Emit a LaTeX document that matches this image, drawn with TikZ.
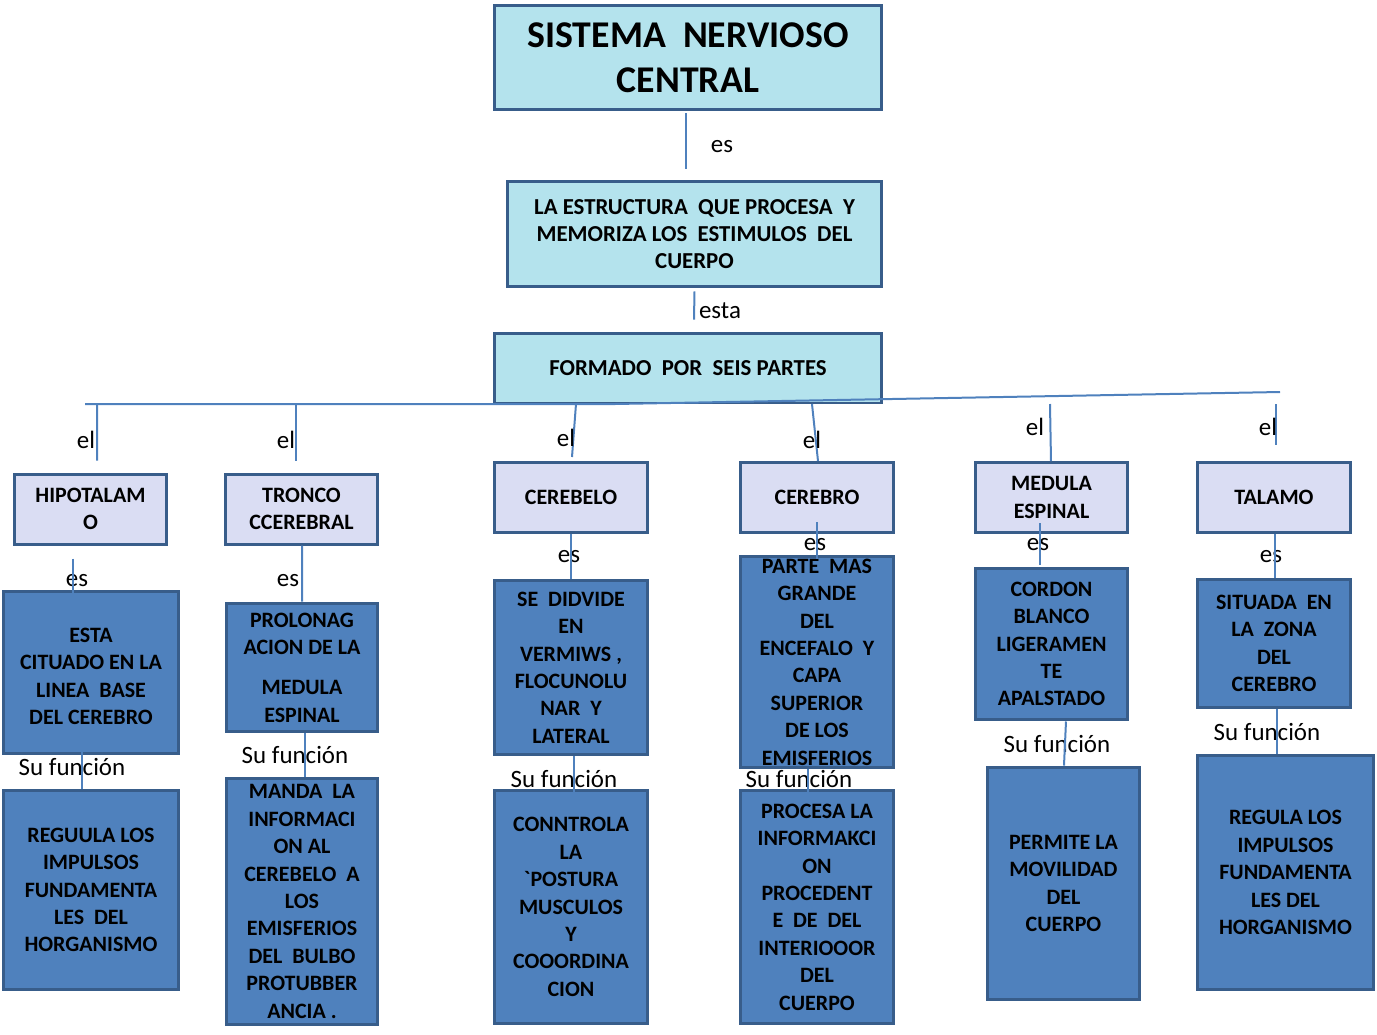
\documentclass[tikz,border=0pt]{standalone}
\usepackage{fontspec}
\setmainfont{Carlito}
\usepackage{xcolor}
\usepackage{tikz}
\usetikzlibrary{positioning}

\definecolor{boxblue}{RGB}{79,129,189}
\definecolor{boxedge}{RGB}{56,93,138}
\definecolor{aqua}{RGB}{180,227,237}
\definecolor{lila}{RGB}{218,221,243}

\begin{document}
\begin{tikzpicture}[x=0.02cm, y=-0.02cm,
		edge/.style={draw=boxedge, line width=0.06cm, align=center, inner sep=0pt},
		topbox/.style={edge, fill=aqua, font=\bfseries\fontsize{13}{15.5}\selectfont},
		partbox/.style={edge, fill=lila, minimum width=3.06cm, minimum height=1.4cm, font=\bfseries\fontsize{12.5}{15.6}\selectfont},
		darkbox/.style={edge, fill=boxblue, font=\bfseries\fontsize{12.5}{15.6}\selectfont},
		link/.style={draw=boxblue, line width=0.04cm},
		tag/.style={inner sep=1pt, font=\fontsize{14.2}{15}\selectfont}]
		\useasboundingbox (0,0) rectangle (1377,1035);

		% top of the map
		\node[topbox, minimum width=7.76cm, minimum height=2.1cm, font=\bfseries\fontsize{21.5}{25.6}\selectfont] (snc) at (688,57.5) {SISTEMA\ \ NERVIOSO\\CENTRAL};
		\node[topbox, minimum width=7.5cm, minimum height=2.12cm] (estr) at (694.5,234) {LA ESTRUCTURA\ \ QUE PROCESA\ \ Y\\MEMORIZA LOS\ \ ESTIMULOS\ \ DEL\\CUERPO};
		\node[topbox, minimum width=7.76cm, minimum height=1.4cm] (partes) at (688,368) {FORMADO\ \ POR\ \ SEIS PARTES};

		\node[tag] (es0) at (722,147) {es};
		\node[tag] (esta) at (720,311) {esta};

		\draw[link] ([shift={(-2,2)}]snc.south) -- ([shift={(-8.5,-11)}]estr.north);
		\draw[link] ([shift={(0,3)}]estr.south) -- ([shift={(6,-12)}]partes.north);

		% the six parts
		\node[partbox] (hip) at (90.5,509) {HIPOTALAM\\O};
		\node[partbox] (tron) at (301.5,509) {TRONCO\\CCEREBRAL};
		\node[partbox] (cbl) at (571,497.5) {CEREBELO};
		\node[partbox] (cbr) at (817,497.5) {CEREBRO};
		\node[partbox] (med) at (1051.5,497.5) {MEDULA\\ESPINAL};
		\node[partbox] (tal) at (1274,497.5) {TALAMO};

		\coordinate (barL) at (85,404);
		\coordinate (barM) at (615,404);
		\coordinate (barR) at (1280,392);
		\draw[link] (barL) -- (barM) -- (barR);

		\coordinate (b1) at (97,404);
		\coordinate (b2) at (296,404);
		\coordinate (b3) at (576,404);
		\coordinate (b4) at (812,404);
		\coordinate (b5) at (1050,404);
		\coordinate (b6) at (1276,404);
		\draw[link] (b1) -- ([shift={(6.5,-12)}]hip.north);
		\draw[link] (b2) -- ([shift={(-5.5,-12)}]tron.north);
		\draw[link] (b3) -- ([shift={(1,-4)}]cbl.north);
		\draw[link] (b4) -- ([shift={(1,0)}]cbr.north);
		\draw[link] (b5) -- ([shift={(-0.5,0)}]med.north);
		\draw[link] (b6) -- ([shift={(2,-16)}]tal.north);

		\node[tag] (el1) at (86,440) {el};
		\node[tag] (el2) at (286,440) {el};
		\node[tag] (el3) at (566,438) {el};
		\node[tag] (el4) at (812,440) {el};
		\node[tag] (el5) at (1035,427) {el};
		\node[tag] (el6) at (1268,427) {el};

		% what each part is
		\node[darkbox, minimum width=3.52cm, minimum height=3.26cm] (hipes) at (91,672.5) {\\[-0.1cm]ESTA\\CITUADO EN LA\\LINEA\ \ BASE\\DEL CEREBRO};
		\node[darkbox, minimum width=3.04cm, minimum height=2.58cm] (trones) at (302,667.5) {PROLONAG\\ACION DE LA\\[0.26cm]MEDULA\\ESPINAL};
		\node[darkbox, minimum width=3.08cm, minimum height=3.5cm] (cbles) at (571,667.5) {SE\ \ DIDVIDE\\EN\\VERMIWS ,\\FLOCUNOLU\\NAR\ \ Y\\LATERAL};
		\node[darkbox, minimum width=3.08cm, minimum height=4.24cm] (cbres) at (817,662) {PARTE\ \ MAS\\GRANDE\\DEL\\ENCEFALO\ \ Y\\CAPA\\SUPERIOR\\DE LOS\\EMISFERIOS};
		\node[darkbox, minimum width=3.06cm, minimum height=3.04cm] (medes) at (1051.5,644) {CORDON\\BLANCO\\LIGERAMEN\\TE\\APALSTADO};
		\node[darkbox, minimum width=3.08cm, minimum height=2.58cm] (tales) at (1274,643.5) {SITUADA\ \ EN\\LA\ \ ZONA\\DEL\\CEREBRO};

		\node[tag] (es1) at (77,581) {es};
		\node[tag] (es2) at (288,581) {es};
		\node[tag] (es3) at (569,557) {es};
		\node[tag] (es4) at (815,545) {es};
		\node[tag] (es5) at (1038,545) {es};
		\node[tag] (es6) at (1271,557) {es};

		% what each part does
		\node[darkbox, minimum width=3.52cm, minimum height=4cm] (hipfn) at (91,890) {REGUULA LOS\\IMPULSOS\\FUNDAMENTA\\LES\ \ DEL\\HORGANISMO};
		\node[darkbox, minimum width=3.04cm, minimum height=4.94cm] (tronfn) at (302,901.5) {MANDA\ \ LA\\INFORMACI\\ON AL\\CEREBELO\ \ A\\LOS\\EMISFERIOS\\DEL\ \ BULBO\\PROTUBBER\\ANCIA .};
		\node[darkbox, minimum width=3.08cm, minimum height=4.68cm] (cblfn) at (571,907) {CONNTROLA\\LA\\\textasciigrave POSTURA\\MUSCULOS\\Y\\COOORDINA\\CION};
		\node[darkbox, minimum width=3.08cm, minimum height=4.68cm] (cbrfn) at (817,907) {PROCESA LA\\INFORMAKCI\\ON\\PROCEDENT\\E\ \ DE\ \ DEL\\INTERIOOOR\\DEL\\CUERPO};
		\node[darkbox, minimum width=3.06cm, minimum height=4.66cm] (medfn) at (1063.5,883.5) {PERMITE LA\\MOVILIDAD\\DEL\\CUERPO};
		\node[darkbox, minimum width=3.54cm, minimum height=4.7cm] (talfn) at (1285.5,872.5) {REGULA LOS\\IMPULSOS\\FUNDAMENTA\\LES DEL\\HORGANISMO};

		\node[tag] (fn1) at (72,767) {Su función};
		\node[tag] (fn2) at (295,755) {Su función};
		\node[tag] (fn3) at (564,779) {Su función};
		\node[tag] (fn4) at (799,779) {Su función};
		\node[tag] (fn5) at (1057,744) {Su función};
		\node[tag] (fn6) at (1267,732) {Su función};

		% links below the parts
		\draw[link] ([shift={(-17.5,13)}]hip.south) -- ([shift={(-18,9)}]hipes.north);
		\draw[link] ([shift={(0.5,0)}]tron.south) -- (trones.north);
		\draw[link] (cbl.south) -- (cbles.north);
		\draw[link] ([shift={(0,-12)}]cbr.south) -- ([shift={(0,4)}]cbres.north);
		\draw[link] ([shift={(-11.5,-11)}]med.south) -- ([shift={(-11.5,-2)}]medes.north);
		\draw[link] ([shift={(1,0)}]tal.south) -- ([shift={(1,0)}]tales.north);

		\draw[link] ([shift={(-9,-24)}]hipes.south) -- ([shift={(-9,0)}]hipfn.north);
		\draw[link] ([shift={(3,0)}]trones.south) -- ([shift={(3,0)}]tronfn.north);
		\draw[link] ([shift={(3,0)}]cbles.south) -- ([shift={(3,5)}]cblfn.north);
		\draw[link] ([shift={(-9,0)}]cbres.south) -- ([shift={(-9,5)}]cbrfn.north);
		\draw[link] ([shift={(14.5,0)}]medes.south) -- ([shift={(0.5,0)}]medfn.north);
		\draw[link] ([shift={(3,0)}]tales.south) -- ([shift={(-8.5,0)}]talfn.north);
	\end{tikzpicture}
\end{document}
